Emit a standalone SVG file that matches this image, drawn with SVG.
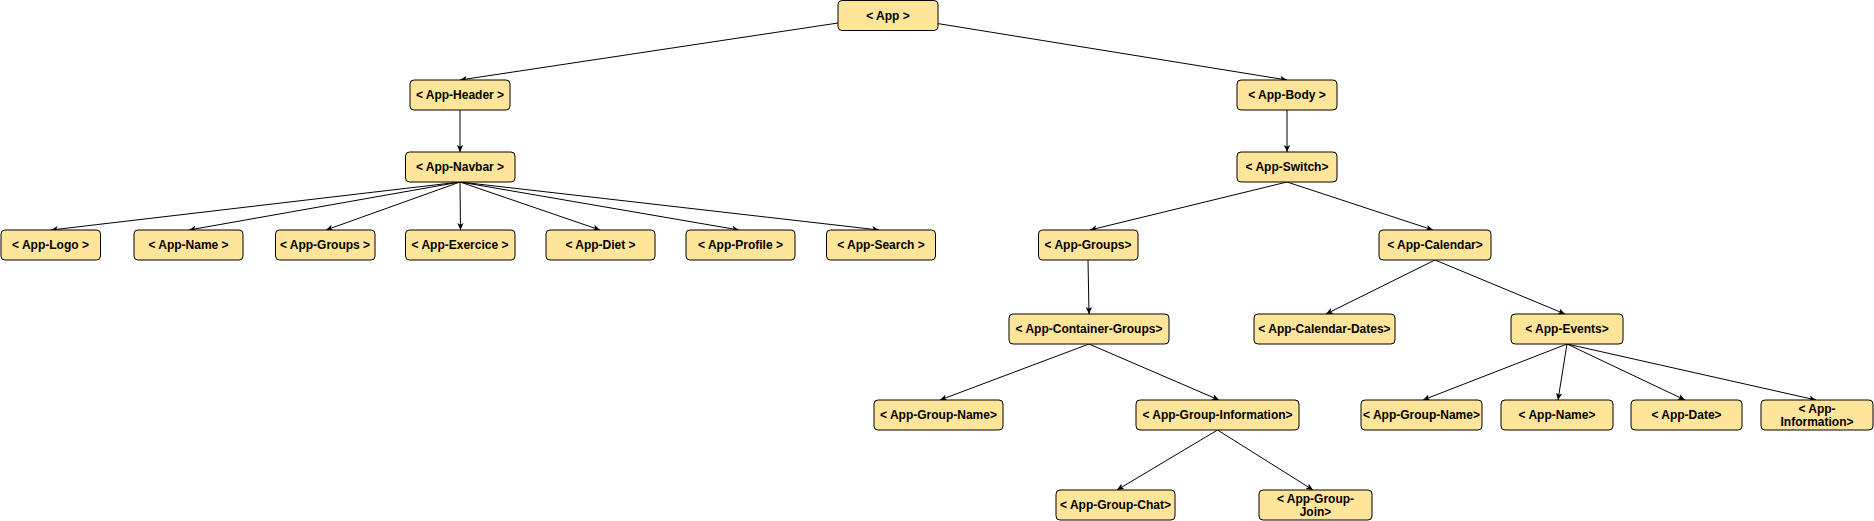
<svg xmlns="http://www.w3.org/2000/svg" width="1874" height="521" viewBox="0 0 1874 521">
<style>
.n rect{fill:#FFE599;stroke:#000;stroke-width:1}
.n text{font-family:"Liberation Sans",Arial,Helvetica,sans-serif;font-size:12px;font-weight:bold;fill:#000;text-anchor:middle}
#edges line{stroke:#000;stroke-width:1;marker-end:url(#arr)}
</style>
<defs>
<marker id="arr" viewBox="0 0 10 10" refX="10" refY="5" markerWidth="7" markerHeight="7" markerUnits="userSpaceOnUse" orient="auto">
<path d="M0,0.5 L10,5 L0,9.5 L2.5,5 z" fill="#000"/>
</marker>
</defs>
<rect width="1874" height="521" fill="#fff"/>
<g id="edges">
<line x1="838" y1="23" x2="460" y2="80"/>
<line x1="938" y1="23.6" x2="1287" y2="80"/>
<line x1="460" y1="110" x2="460" y2="152"/>
<line x1="1287" y1="110" x2="1287" y2="152"/>
<line x1="460" y1="182" x2="51" y2="230"/>
<line x1="460" y1="182" x2="189" y2="230"/>
<line x1="460" y1="182" x2="326" y2="230"/>
<line x1="460" y1="182" x2="460.5" y2="230"/>
<line x1="460" y1="182" x2="600" y2="230"/>
<line x1="460" y1="182" x2="739" y2="230"/>
<line x1="460" y1="182" x2="879" y2="230"/>
<line x1="1287" y1="182" x2="1090" y2="230"/>
<line x1="1287" y1="182" x2="1433" y2="230"/>
<line x1="1088" y1="260" x2="1089" y2="314"/>
<line x1="1435" y1="260" x2="1326" y2="314"/>
<line x1="1435" y1="260" x2="1565" y2="314"/>
<line x1="1089" y1="344" x2="940" y2="400"/>
<line x1="1089" y1="344" x2="1219" y2="400"/>
<line x1="1567" y1="344" x2="1423" y2="400"/>
<line x1="1567" y1="344" x2="1558" y2="400"/>
<line x1="1567" y1="344" x2="1685" y2="400"/>
<line x1="1567" y1="344" x2="1816" y2="400"/>
<line x1="1217.5" y1="430" x2="1117" y2="490"/>
<line x1="1217.5" y1="430" x2="1313" y2="490"/>
</g>
<g id="app" class="n"><rect x="838" y="0.5" width="100" height="30" rx="4"/><text x="888" y="19.8">&lt; App &gt;</text></g>
<g id="app-header" class="n"><rect x="410" y="80" width="100" height="30" rx="4"/><text x="460" y="99.3">&lt; App-Header &gt;</text></g>
<g id="app-body" class="n"><rect x="1237" y="80" width="100" height="30" rx="4"/><text x="1287" y="99.3">&lt; App-Body &gt;</text></g>
<g id="app-navbar" class="n"><rect x="405.5" y="152" width="109.5" height="30" rx="4"/><text x="460" y="171.3">&lt; App-Navbar &gt;</text></g>
<g id="app-switch" class="n"><rect x="1237" y="152" width="100" height="30" rx="4"/><text x="1287" y="171.3">&lt; App-Switch&gt;</text></g>
<g id="app-logo" class="n"><rect x="1" y="230" width="99.5" height="30" rx="4"/><text x="50.5" y="249.3">&lt; App-Logo &gt;</text></g>
<g id="app-name" class="n"><rect x="134" y="230" width="109" height="30" rx="4"/><text x="188.5" y="249.3">&lt; App-Name &gt;</text></g>
<g id="app-groups" class="n"><rect x="275.5" y="230" width="99.5" height="30" rx="4"/><text x="325" y="249.3">&lt; App-Groups &gt;</text></g>
<g id="app-exercice" class="n"><rect x="405.5" y="230" width="109.5" height="30" rx="4"/><text x="460" y="249.3">&lt; App-Exercice &gt;</text></g>
<g id="app-diet" class="n"><rect x="546" y="230" width="109" height="30" rx="4"/><text x="600.5" y="249.3">&lt; App-Diet &gt;</text></g>
<g id="app-profile" class="n"><rect x="686" y="230" width="109" height="30" rx="4"/><text x="740.5" y="249.3">&lt; App-Profile &gt;</text></g>
<g id="app-search" class="n"><rect x="826.5" y="230" width="109" height="30" rx="4"/><text x="881" y="249.3">&lt; App-Search &gt;</text></g>
<g id="app-groups-2" class="n"><rect x="1038.5" y="230" width="99.5" height="30" rx="4"/><text x="1088" y="249.3">&lt; App-Groups&gt;</text></g>
<g id="app-calendar" class="n"><rect x="1379" y="230" width="112" height="30" rx="4"/><text x="1435" y="249.3">&lt; App-Calendar&gt;</text></g>
<g id="app-container-groups" class="n"><rect x="1009" y="314" width="160" height="30" rx="4"/><text x="1089" y="333.3">&lt; App-Container-Groups&gt;</text></g>
<g id="app-calendar-dates" class="n"><rect x="1254" y="314" width="141" height="30" rx="4"/><text x="1324.5" y="333.3">&lt; App-Calendar-Dates&gt;</text></g>
<g id="app-events" class="n"><rect x="1511" y="314" width="112" height="30" rx="4"/><text x="1567" y="333.3">&lt; App-Events&gt;</text></g>
<g id="app-group-name" class="n"><rect x="874" y="400" width="129" height="30" rx="4"/><text x="938.5" y="419.3">&lt; App-Group-Name&gt;</text></g>
<g id="app-group-information" class="n"><rect x="1136" y="400" width="163" height="30" rx="4"/><text x="1217.5" y="419.3">&lt; App-Group-Information&gt;</text></g>
<g id="app-group-name-2" class="n"><rect x="1361" y="400" width="121" height="30" rx="4"/><text x="1421.5" y="419.3">&lt; App-Group-Name&gt;</text></g>
<g id="app-name-2" class="n"><rect x="1501" y="400" width="112" height="30" rx="4"/><text x="1557" y="419.3">&lt; App-Name&gt;</text></g>
<g id="app-date" class="n"><rect x="1631" y="400" width="111" height="30" rx="4"/><text x="1686.5" y="419.3">&lt; App-Date&gt;</text></g>
<g id="app-information" class="n"><rect x="1761" y="400" width="112" height="30" rx="4"/><text x="1817" y="413">&lt; App-</text><text x="1817" y="426">Information&gt;</text></g>
<g id="app-group-chat" class="n"><rect x="1056" y="490" width="119" height="30" rx="4"/><text x="1115.5" y="509.3">&lt; App-Group-Chat&gt;</text></g>
<g id="app-group-join" class="n"><rect x="1259" y="490" width="113" height="30" rx="4"/><text x="1315.5" y="503">&lt; App-Group-</text><text x="1315.5" y="516">Join&gt;</text></g>
</svg>
